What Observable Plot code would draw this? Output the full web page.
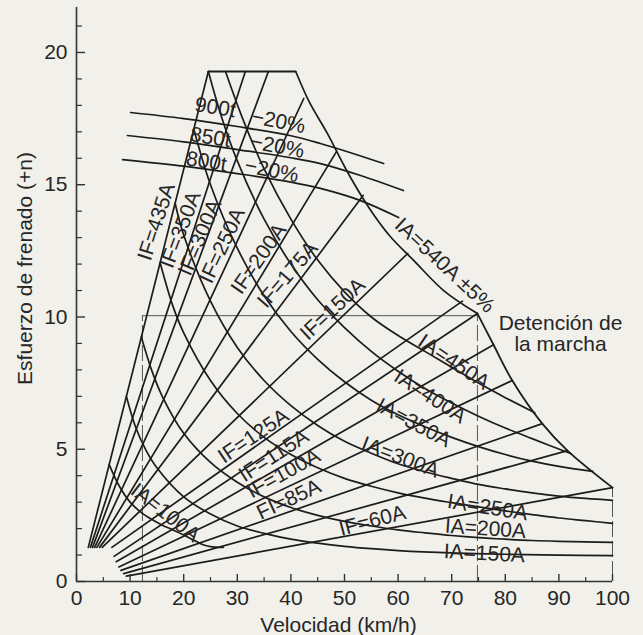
<!DOCTYPE html>
<html><head><meta charset="utf-8">
<script src="https://cdn.jsdelivr.net/npm/d3@7"></script>
<script src="https://cdn.jsdelivr.net/npm/@observablehq/plot@0.6"></script>
<style>
html,body{margin:0;padding:0;background:#f1f0eb;}
#chart{width:643px;height:635px;}
</style></head><body><div id="chart"></div>
<script>
// ---- axis ticks & labels ----
const speedTicks = [0,10,20,30,40,50,60,70,80,90,100];
const speedTickLabels = ["0","10","20","30","40","50","60","70","80","90","100"];
const speedMinor = [5,15,25,35,45,55,65,75,85,95];
const forceTicks = [0,5,10,15,20];
const forceTickLabels = ["0","5","10","15","20"];
const forceMinor = [1,2,3,4,6,7,8,9,11,12,13,14,16,17,18,19,21];
const xTitle = "Velocidad (km/h)";
const yTitle = "Esfuerzo de frenado (+n)";

// ---- armature current curves (speed km/h, force) ----
const ia100 = [[6.1,4.42],[8,3.6],[10,3.0],[12,2.62],[14,2.35],[16,2.13],[18,1.95],[20,1.76],[22,1.55],[23.5,1.4],[25,1.32],[27.4,1.29]];
const ia150 = [[9.3,7.0],[11,5.85],[13,4.95],[15,4.3],[20,3.2],[25,2.55],[30,2.1],[35,1.82],[40,1.6],[45,1.45],[50,1.33],[55,1.24],[60,1.17],[70,1.08],[80,1.03],[90,1.0],[100,0.98]];
const ia200 = [[12.1,9.24],[14,8.0],[16,7.0],[20,5.6],[25,4.5],[30,3.75],[35,3.2],[40,2.8],[45,2.5],[50,2.27],[55,2.1],[60,1.95],[65,1.84],[70,1.74],[75,1.66],[80,1.6],[85,1.55],[90,1.52],[95,1.5],[100,1.48]];
const ia250 = [[15.6,12.05],[18,10.4],[20,9.4],[25,7.6],[30,6.35],[35,5.45],[40,4.8],[45,4.3],[50,3.9],[55,3.6],[60,3.35],[65,3.15],[70,2.98],[75,2.82],[80,2.67],[85,2.53],[90,2.4],[95,2.3],[100,2.2]];
const ia300 = [[18.4,14.3],[20,13.1],[25,10.6],[30,8.85],[35,7.6],[40,6.65],[45,5.9],[50,5.3],[55,4.85],[60,4.45],[65,4.15],[70,3.9],[75,3.67],[80,3.5],[85,3.35],[90,3.23],[95,3.14],[100,3.07]];
const ia350 = [[21.9,17.1],[25,15.0],[30,12.6],[35,10.8],[40,9.45],[45,8.4],[50,7.55],[55,6.85],[60,6.3],[65,5.85],[70,5.45],[75,5.1],[80,4.8],[85,4.55],[90,4.35],[96.3,4.16]];
const ia400 = [[24.6,19.28],[27,17.6],[30,15.9],[35,13.7],[40,12.0],[45,10.65],[50,9.6],[55,8.7],[60,7.95],[65,7.3],[70,6.75],[75,6.25],[80,5.8],[85,5.4],[92.3,4.83]];
const ia450 = [[27.8,19.28],[31,17.5],[35,15.6],[40,13.7],[45,12.15],[50,10.95],[55,10.0],[60,9.3],[65,8.7],[70,8.1],[75,7.5],[80,6.95],[85.5,6.38]];
const ia540 = [[40.9,19.28],[43.5,18.1],[46.8,16.94],[50.5,15.5],[54.5,14.15],[58.5,13.05],[62.9,12.14],[68.5,11.0],[74.8,10.13]];
const stopLimit = [[74.8,10.13],[77.8,8.95],[81.3,7.6],[86.9,5.97],[91.6,4.95],[100,3.55]];
const topLimit = [[24.6,19.28],[40.9,19.28]];

// ---- train tonnage curves ----
const t900 = [[10.1,17.73],[20,17.5],[30,17.2],[40,16.85],[45.5,16.56],[51,16.22],[57.3,15.8]];
const t850 = [[9.5,16.86],[20,16.62],[30,16.33],[40,16.02],[45.5,15.8],[53,15.35],[61,14.78]];
const t800 = [[8.6,15.95],[20,15.7],[30,15.42],[40,15.1],[45.5,14.86],[53,14.4],[60.1,13.76]];

// ---- field current lines (start, end) ----
const ifStart = [[2.2,1.29],[2.6,1.29],[3.0,1.29],[3.4,1.29],[3.8,1.29],[4.3,1.29],[4.8,1.29],[6.6,1.29],[7.0,0.95],[7.4,0.75],[7.9,0.55],[8.3,0.42],[8.8,0.3],[9.3,0.2]];
const ifEnd = [[24.6,19.28],[31.5,19.28],[35.8,19.28],[42.4,18.26],[48.5,16.25],[53.5,14.6],[61.8,12.4],[72.0,10.6],[74.8,10.13],[77.8,8.95],[81.3,7.6],[86.9,5.97],[91.6,4.95],[100,3.55]];

// ---- guide lines: [speed, from force, to force] and [from speed, to speed, force] ----
const guideV = [[12.3,0,10.05],[74.8,0,10.13],[100,0.15,3.55]];
const guideH = [[12.3,74.8,10.05]];

// ---- labels ----
const ifLabels = ["IF=435A","IF=350A","IF=300A","IF=250A","IF=200A","IF=175A","IF=150A","IF=125A","IF=115A","IF=100A","FI=85A","IF=60A"];
const ifLabelAt = [[14.9,13.6],[19.4,13.3],[23.0,13.0],[27.2,12.7],[34.0,12.2],[39.4,11.6],[47.8,10.3],[33.0,5.5],[36.8,4.76],[38.6,4.08],[39.6,3.1],[55.2,2.3]];
const ifLabelAngle = [-72,-69,-67,-65,-55,-49,-43,-34,-33,-29,-25,-15];
const iaLabels = ["IA=540A ±5%","IA=450A","IA=400A","IA=350A","IA=300A","IA=250A","IA=200A","IA=150A","IA=100A"];
const iaLabelAt = [[68.7,11.95],[70.4,8.3],[66.0,7.0],[62.9,6.0],[60.4,4.7],[76.7,2.8],[76.3,2.0],[76.1,1.06],[16.6,2.6]];
const iaLabelAngle = [43,34,33,28,21,9,4,3,38];
const tonLabels = ["900t","850t","800t"];
const tonLabelAt = [[25.9,17.92],[25.0,16.79],[24.25,15.88]];
const pctLabels = ["−20%","−20%","−20%"];
const pctLabelAt = [[37.7,17.39],[37.5,16.45],[36.4,15.54]];
const stopLabel = "Detención de\nla marcha";
const stopLabelAt = [90.3,9.38];

// ---- build tables ----
const rows = (id, pts) => pts.map(([v,f]) => ({id, v, f}));
const iaRows = [
  ...rows("100", ia100), ...rows("150", ia150), ...rows("200", ia200), ...rows("250", ia250),
  ...rows("300", ia300), ...rows("350", ia350), ...rows("400", ia400), ...rows("450", ia450), ...rows("540", ia540)
];
const limitRows = [...rows("stop", stopLimit), ...rows("top", topLimit)];
const tonRows = [...rows("900", t900), ...rows("850", t850), ...rows("800", t800)];
const ifRows = ifStart.flatMap((s,i) => [{id:i, v:s[0], f:s[1]}, {id:i, v:ifEnd[i][0], f:ifEnd[i][1]}]);
const textRows = [
  ...ifLabels.map((t,i) => ({t, v:ifLabelAt[i][0], f:ifLabelAt[i][1], r:ifLabelAngle[i]})),
  ...iaLabels.map((t,i) => ({t, v:iaLabelAt[i][0], f:iaLabelAt[i][1], r:iaLabelAngle[i]})),
  ...tonLabels.map((t,i) => ({t, v:tonLabelAt[i][0], f:tonLabelAt[i][1], r:9})),
  ...pctLabels.map((t,i) => ({t, v:pctLabelAt[i][0], f:pctLabelAt[i][1], r:11}))
];

const W = 643, H = 635, mL = 76, mR = 31, mT = 7, mB = 54;
const frameW = W - mL - mR, frameH = H - mT - mB;
const ink = "#1c1c1c";
const font = "'Liberation Sans', Arial, sans-serif";

const chart = Plot.plot({
  width: W, height: H,
  marginLeft: mL, marginRight: mR, marginTop: mT, marginBottom: mB,
  x: {domain: [0, 100]},
  y: {domain: [0, 21.7]},
  style: {background: "transparent", fontFamily: font, fontSize: "21px", color: "#262626", overflow: "visible"},
  marks: [
    Plot.ruleX(guideV, {x: d => d[0], y1: d => d[1], y2: d => d[2], stroke: "#555", strokeWidth: 1, strokeDasharray: "16,4"}),
    Plot.ruleY(guideH, {y: d => d[2], x1: d => d[0], x2: d => d[1], stroke: "#555", strokeWidth: 1}),
    Plot.line(ifRows, {x: "v", y: "f", z: "id", stroke: ink, strokeWidth: 1.7}),
    Plot.line(iaRows, {x: "v", y: "f", z: "id", stroke: ink, strokeWidth: 1.7, curve: "catmull-rom"}),
    Plot.line(limitRows, {x: "v", y: "f", z: "id", stroke: ink, strokeWidth: 1.8, curve: "catmull-rom"}),
    Plot.line(tonRows, {x: "v", y: "f", z: "id", stroke: ink, strokeWidth: 1.7, curve: "catmull-rom"}),
    Plot.ruleY([0], {stroke: "#333", strokeWidth: 1.6}),
    Plot.ruleX([0], {stroke: "#333", strokeWidth: 1.6}),
    Plot.tickX(speedTicks, {x: d => d, insetTop: frameH - 7, stroke: "#333", strokeWidth: 1.4}),
    Plot.tickX(speedMinor, {x: d => d, insetTop: frameH - 4, stroke: "#333", strokeWidth: 1.2}),
    Plot.tickY(forceTicks, {y: d => d, insetRight: frameW - 9, stroke: "#333", strokeWidth: 1.4}),
    Plot.tickY(forceMinor, {y: d => d, insetRight: frameW - 6, stroke: "#333", strokeWidth: 1.2}),
    Plot.axisX({ticks: speedTicks, tickSize: 0, tickPadding: 9, fontSize: 21, label: null,
      tickFormat: d => speedTickLabels[speedTicks.indexOf(d)]}),
    Plot.axisY({ticks: forceTicks, tickSize: 0, tickPadding: 9, fontSize: 21, label: null,
      tickFormat: d => forceTickLabels[forceTicks.indexOf(d)]}),
    Plot.text(textRows, {x: "v", y: "f", text: "t", rotate: d => d.r, fontSize: 21, fill: "#262626"}),
    Plot.text([stopLabel], {x: () => stopLabelAt[0], y: () => stopLabelAt[1], text: d => d, fontSize: 21, lineHeight: 1.0, fill: "#262626"}),
    Plot.text([xTitle], {frameAnchor: "bottom", dy: 44, dx: -6, textAnchor: "middle", lineAnchor: "middle", text: d => d, fontSize: 21, fill: "#262626"}),
    Plot.text([yTitle], {frameAnchor: "left", dx: -51, dy: -26, rotate: -90, textAnchor: "middle", lineAnchor: "middle", text: d => d, fontSize: 21, fill: "#262626"})
  ]
});
document.getElementById("chart").appendChild(chart);
</script>
</body></html>
